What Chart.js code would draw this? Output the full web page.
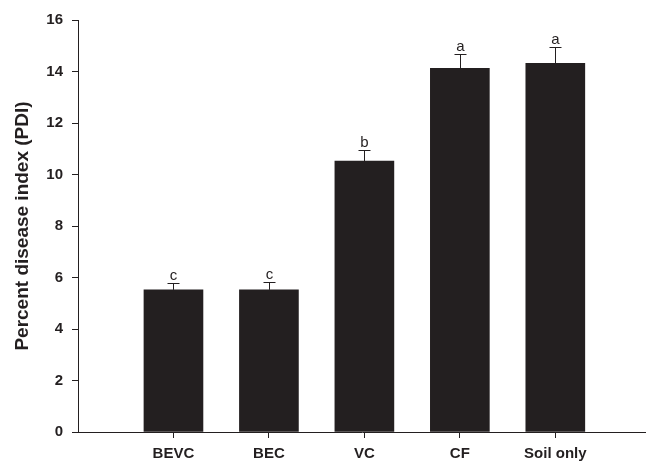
<!DOCTYPE html>
<html>
<head>
<meta charset="utf-8">
<script src="https://cdn.jsdelivr.net/npm/chart.js@4"></script>
<style>
html,body{margin:0;padding:0;background:#fff;overflow:hidden;}
canvas{display:block;}
</style>
</head>
<body>
<canvas id="c" width="646" height="463"></canvas>
<script>
const categories = ['BEVC', 'BEC', 'VC', 'CF', 'Soil only'];
const pdiValues = [5.52, 5.52, 10.52, 14.12, 14.32];
const pdiErrors = [0.28, 0.30, 0.45, 0.55, 0.62];
const sigLetters = ['c', 'c', 'b', 'a', 'a'];
const yTicks = [0, 2, 4, 6, 8, 10, 12, 14, 16];

const ink = '#231f20';
const fam = '"Liberation Sans", Arial, sans-serif';

const errorBarPlugin = {
  id: 'errorBars',
  afterDatasetsDraw(chart) {
    const ctx = chart.ctx;
    const xs = chart.scales.x, ys = chart.scales.y;
    ctx.save();
    ctx.strokeStyle = ink;
    ctx.lineWidth = 1;
    ctx.fillStyle = ink;
    ctx.font = '15px ' + fam;
    ctx.textAlign = 'center';
    ctx.textBaseline = 'alphabetic';
    pdiValues.forEach((v, i) => {
      const x = Math.round(xs.getPixelForValue(i + 1)) + 0.5;
      const yTop = ys.getPixelForValue(v);
      const yErr = Math.round(ys.getPixelForValue(v + pdiErrors[i])) + 0.5;
      ctx.beginPath();
      ctx.moveTo(x, yTop);
      ctx.lineTo(x, yErr);
      ctx.moveTo(x - 6, yErr);
      ctx.lineTo(x + 6, yErr);
      ctx.stroke();
      ctx.fillText(sigLetters[i], x, yErr - 4);
    });
    ctx.restore();
  }
};

new Chart(document.getElementById('c'), {
  type: 'bar',
  data: {
    datasets: [{
      data: categories.map((c, i) => ({ x: i + 1, y: pdiValues[i] })),
      backgroundColor: ink,
      borderWidth: 0,
      barThickness: 59
    }]
  },
  options: {
    responsive: false,
    animation: false,
    events: [],
    layout: { padding: { top: 20, right: 0, left: 0, bottom: 0 } },
    plugins: { legend: { display: false }, tooltip: { enabled: false } },
    scales: {
      x: {
        type: 'linear',
        offset: false,
        min: 0,
        max: 5.95,
        afterBuildTicks(scale) {
          scale.ticks = categories.map((c, i) => ({ value: i + 1 }));
        },
        afterFit(scale) { scale.height = 31; },
        ticks: {
          autoSkip: false,
          maxRotation: 0,
          padding: 7,
          color: ink,
          font: { family: fam, size: 15, weight: 'bold' },
          callback: (v) => categories[v - 1] ?? ''
        },
        grid: { offset: false, drawOnChartArea: false, drawTicks: true, tickLength: 6, color: ink, lineWidth: 1 },
        border: { display: true, color: ink, width: 1 }
      },
      y: {
        min: 0,
        max: 16,
        afterBuildTicks(scale) {
          scale.ticks = yTicks.map(v => ({ value: v }));
        },
        afterFit(scale) { scale.width = 78; },
        ticks: {
          padding: 9,
          color: ink,
          font: { family: fam, size: 15, weight: 'bold' }
        },
        grid: { drawOnChartArea: false, drawTicks: true, tickLength: 6, color: ink, lineWidth: 1 },
        border: { display: true, color: ink, width: 1 },
        title: {
          display: true,
          text: 'Percent disease index (PDI)',
          color: ink,
          padding: { top: 11, bottom: 0 },
          font: { family: fam, size: 19, weight: 'bold' }
        }
      }
    }
  },
  plugins: [errorBarPlugin]
});
</script>
</body>
</html>
